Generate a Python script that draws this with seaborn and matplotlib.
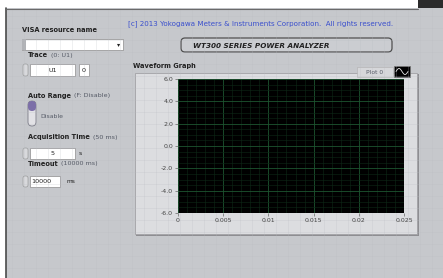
import numpy as np
import seaborn as sns
import matplotlib.pyplot as plt
from matplotlib.patches import Rectangle, FancyBboxPatch

# chart data (graph is empty: "Plot 0" holds no samples)
x_ticks = [0, 0.005, 0.01, 0.015, 0.02, 0.025]
x_tick_labels = ["0", "0.005", "0.01", "0.015", "0.02", "0.025"]
y_ticks = [6.0, 4.0, 2.0, 0.0, -2.0, -4.0, -6.0]
y_tick_labels = ["6.0", "4.0", "2.0", "0.0", "-2.0", "-4.0", "-6.0"]
plot_time = []
plot_value = []

# front panel values
trace_value = "U1"
trace_index = "0"
acq_time = "5"
timeout_value = "10000"

sns.set_style("white")
plt.rcParams['font.family'] = ['DejaVu Sans']

W, H = 443, 278
fig = plt.figure(figsize=(W / 100, H / 100), dpi=100)

# pixel overlay for the panel widgets
bg = fig.add_axes([0, 0, 1, 1], zorder=0)
bg.set_xlim(0, W)
bg.set_ylim(H, 0)
bg.axis("off")

panel = "#c6c8cc"
dark = "#222222"
soft = "#555a66"

bg.add_patch(Rectangle((0, 0), W, H, fc="white", ec="none"))
bg.add_patch(Rectangle((6, 8), W - 6, H - 8, fc=panel, ec="none"))
bg.add_patch(Rectangle((418, 0), 25, 8, fc="#2b2b2b", ec="none"))
for gx in range(12, W, 12):
    bg.plot([gx, gx], [8, H], color="#b9bcc2", lw=0.4, alpha=0.4)
for gy in range(16, H, 12):
    bg.plot([6, W], [gy, gy], color="#b9bcc2", lw=0.4, alpha=0.4)
bg.plot([6.5, 6.5], [8, H], color="#4a4a4a", lw=1.2)
bg.plot([6, 418], [8.5, 8.5], color="#6a6a6a", lw=0.8)

# header
bg.text(128, 24, "[c] 2013 Yokogawa Meters & Instruments Corporation.  All rights reserved.",
        fontsize=5.1, color="#3a4fcc", va="center", ha="left")
bg.add_patch(FancyBboxPatch((181, 38), 211, 14, boxstyle="round,pad=0,rounding_size=4",
                            fc="#cbcdd1", ec="#505050", lw=0.9))
bg.text(193, 45.5, "WT300 SERIES POWER ANALYZER", fontsize=5.2, fontweight="bold",
        fontstyle="italic", color=dark, va="center", ha="left")


def label(x, y, bold_part, rest=""):
    t = bg.text(x, y, bold_part, fontsize=4.8, fontweight="bold", color=dark, va="center")
    if rest:
        bg.annotate(rest, xy=(1, 0.5), xycoords=t, xytext=(2, 0), textcoords="offset points",
                    fontsize=4.6, color=soft, va="center", ha="left")


def field(x, y, w, h, txt, ha="center"):
    bg.add_patch(Rectangle((x, y), w, h, fc="white", ec="#8c8c8c", lw=0.5))
    tx = x + w / 2 if ha == "center" else x + 1.5
    bg.text(tx, y + h / 2, txt, fontsize=4.6, color=dark, va="center", ha=ha)


def spinner(x, y, h):
    bg.add_patch(FancyBboxPatch((x, y), 5, h, boxstyle="round,pad=0,rounding_size=2",
                                fc="#d8d9dc", ec="#8f8f8f", lw=0.4))


label(22, 30, "VISA resource name")
bg.add_patch(Rectangle((22, 39), 101, 11, fc="white", ec="#8c8c8c", lw=0.5))
bg.add_patch(Rectangle((22, 39), 4, 11, fc="#b0b2b6", ec="none"))
bg.text(119, 45, "▾", fontsize=4.5, color=dark, va="center", ha="center")

label(28, 55, "Trace", "(0: U1)")
spinner(23, 64, 12)
field(30, 64, 45, 12, trace_value)
field(79, 64, 10, 12, trace_index)

label(28, 96, "Auto Range", "(F: Disable)")
bg.add_patch(FancyBboxPatch((28, 101), 8, 25, boxstyle="round,pad=0,rounding_size=4",
                            fc="#e2e2e6", ec="#7a7a86", lw=0.6))
bg.add_patch(FancyBboxPatch((28, 101), 8, 10, boxstyle="round,pad=0,rounding_size=4",
                            fc="#7c6fa8", ec="none"))
bg.text(40, 116, "Disable", fontsize=4.4, color=soft, va="center")

label(28, 137, "Acquisition Time", "(50 ms)")
spinner(23, 148, 11)
field(30, 148, 45, 11, acq_time)
bg.text(79, 153.5, "s", fontsize=4.4, color=dark, va="center")

label(28, 164, "Timeout", "(10000 ms)")
spinner(23, 176, 11)
field(30, 176, 30, 11, timeout_value, ha="left")
bg.text(67, 181.5, "ms", fontsize=4.2, color=dark, va="center")

# waveform graph frame
label(133, 66, "Waveform Graph")
bg.add_patch(Rectangle((136, 74), 283, 162, fc="#8e8e92", ec="none"))
bg.add_patch(Rectangle((135, 73), 282, 161, fc="#dcdde0", ec="#a2a2a6", lw=0.6))
bg.add_patch(Rectangle((357, 67), 36, 10, fc="#d6d7da", ec="#b0b0b0", lw=0.4))
bg.text(375, 72, "Plot 0", fontsize=4.3, color=soft, va="center", ha="center")
bg.add_patch(Rectangle((394, 66), 16, 11, fc="black", ec="#777", lw=0.5))
icon = np.linspace(0, 1, 30)
bg.plot(396 + 12 * icon, 71.5 - 3 * np.sin(2 * np.pi * icon), color="#e8e8e8", lw=0.6)

# plot area
x0, x1, y0, y1 = 178, 404, 79, 213
ax = fig.add_axes([x0 / W, 1 - y1 / H, (x1 - x0) / W, (y1 - y0) / H], zorder=2)
ax.set_facecolor("black")
sns.lineplot(x=plot_time, y=plot_value, ax=ax, color="white", label="Plot 0", legend=False)
ax.set_xlim(0, 0.025)
ax.set_ylim(-6, 6)
ax.set_xticks(x_ticks, x_tick_labels)
ax.set_yticks(y_ticks, y_tick_labels)
ax.set_xticks(np.arange(0, 0.0251, 0.001), minor=True)
ax.set_yticks(np.arange(-6, 6.01, 0.5), minor=True)
ax.grid(True, which="major", color="#1d5631", lw=0.6)
ax.grid(True, which="minor", color="#0d2817", lw=0.4)
ax.tick_params(axis="both", which="major", labelsize=4.5, labelcolor="#444",
               length=2, width=0.5, color="#666", pad=1.5, left=True, bottom=True)
ax.tick_params(axis="both", which="minor", length=0)
for s in ax.spines.values():
    s.set_visible(False)
ax.set_xlabel("")
ax.set_ylabel("")

fig.savefig("out.png", dpi=100)
